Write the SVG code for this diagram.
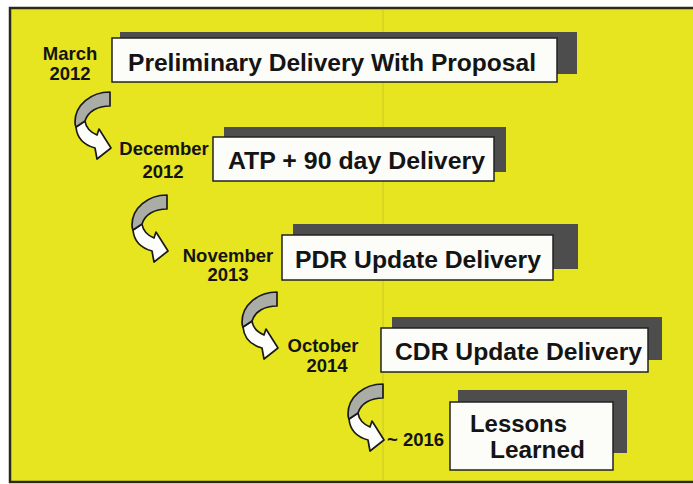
<svg xmlns="http://www.w3.org/2000/svg" xmlns:xlink="http://www.w3.org/1999/xlink" width="693" height="484" viewBox="0 0 693 484">
<style>
.box{fill:#fcfcf8;stroke:#222;stroke-width:1.5}
.shadow{fill:#4d4d4d}
.t{font-family:"Liberation Sans",Arial,sans-serif;font-weight:bold;font-size:23px;fill:#141414}
.d{font-family:"Liberation Sans",Arial,sans-serif;font-weight:bold;font-size:18.5px;fill:#141414;text-anchor:middle}
.gray{fill:#aaada6;stroke:#1a1a1a;stroke-width:1.7;stroke-linejoin:round}
.white{fill:#fdfdfb;stroke:#1a1a1a;stroke-width:1.7;stroke-linejoin:round}
</style>
<defs>
<g id="arrow">
<path class="white" d="M10,29 C11,36 15,40 22,43 L24,37 L36,56 L22,67 L20,56 C9,53 2,46 1,35 Z"/>
<path class="gray" d="M35,0 L35,14 C23,14 13,19 10,29 L1,35 C0,33 0,31 0,30 C0,13 16,0 35,0 Z"/>
</g>
</defs>
<rect x="0" y="0" width="693" height="484" fill="#ffffff"/>
<rect x="10" y="8" width="690" height="474" fill="#e6e520" stroke="#2a2a1a" stroke-width="2.5"/>
<line x1="383" y1="10" x2="383" y2="480" stroke="#b9b92a" stroke-width="1" opacity="0.6"/>

<g id="node1">
<rect class="shadow" x="120" y="32" width="457" height="42"/>
<rect class="box" x="112" y="38" width="445" height="44"/>
<text class="t" x="128" y="71" textLength="408" lengthAdjust="spacingAndGlyphs">Preliminary Delivery With Proposal</text>
<text class="d" x="70" y="60">March</text>
<text class="d" x="70" y="80">2012</text>
</g>
<g id="node2">
<rect class="shadow" x="224" y="127" width="282" height="45"/>
<rect class="box" x="213" y="137" width="281" height="44"/>
<text class="t" x="228" y="169" textLength="257" lengthAdjust="spacingAndGlyphs">ATP + 90 day Delivery</text>
<text class="d" x="164" y="155">December</text>
<text class="d" x="163" y="178">2012</text>
</g>
<g id="node3">
<rect class="shadow" x="293" y="224" width="285" height="45"/>
<rect class="box" x="282" y="235" width="271" height="45"/>
<text class="t" x="295" y="268" textLength="246" lengthAdjust="spacingAndGlyphs">PDR Update Delivery</text>
<text class="d" x="228" y="262">November</text>
<text class="d" x="228" y="281">2013</text>
</g>
<g id="node4">
<rect class="shadow" x="392" y="317" width="270" height="43"/>
<rect class="box" x="381" y="328" width="267" height="44"/>
<text class="t" x="395" y="360" textLength="247" lengthAdjust="spacingAndGlyphs">CDR Update Delivery</text>
<text class="d" x="323" y="352">October</text>
<text class="d" x="327" y="372">2014</text>
</g>
<g id="node5">
<rect class="shadow" x="458" y="390" width="169" height="63"/>
<rect class="box" x="450" y="402" width="163" height="68"/>
<text class="t" x="470" y="432" textLength="97" lengthAdjust="spacingAndGlyphs">Lessons</text>
<text class="t" x="490" y="458" textLength="95" lengthAdjust="spacingAndGlyphs">Learned</text>
<text class="d" x="387" y="446" style="text-anchor:start">~ 2016</text>
</g>

<g id="connectors">
<use xlink:href="#arrow" href="#arrow" transform="translate(75,92)"/>
<use xlink:href="#arrow" href="#arrow" transform="translate(132,195)"/>
<use xlink:href="#arrow" href="#arrow" transform="translate(242,292)"/>
<use xlink:href="#arrow" href="#arrow" transform="translate(348,384)"/>
</g>
</svg>
